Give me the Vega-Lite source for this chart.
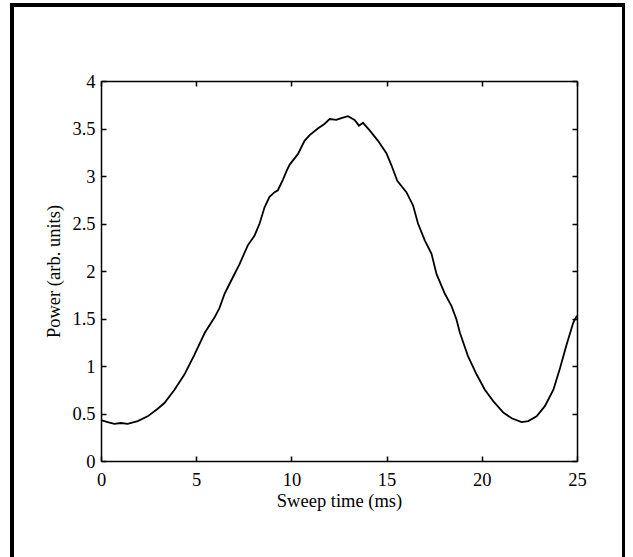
{
  "$schema": "https://vega.github.io/schema/vega-lite/v6.json",
  "width": 476,
  "height": 380,
  "autosize": {"type": "none"},
  "padding": {"left": 101, "top": 81, "right": 56, "bottom": 96},
  "background": "white",
  "config": {
    "view": {"stroke": null},
    "axis": {
      "domainColor": "black",
      "domainWidth": 1.5,
      "tickColor": "black",
      "tickWidth": 1.5,
      "tickSize": -5,
      "grid": false,
      "format": "~g",
      "labelFont": "Liberation Serif",
      "labelFontSize": 18.5,
      "labelColor": "black",
      "labelFlush": false,
      "titleFont": "Liberation Serif",
      "titleFontSize": 18.5,
      "titleFontWeight": "normal",
      "titleColor": "black"
    }
  },
  "data": {
    "values": [
      {"t": 0.0, "p": 0.43}, {"t": 0.35, "p": 0.41}, {"t": 0.7, "p": 0.39}, {"t": 1.05, "p": 0.4},
      {"t": 1.4, "p": 0.39}, {"t": 1.93, "p": 0.42}, {"t": 2.45, "p": 0.47}, {"t": 2.98, "p": 0.55},
      {"t": 3.33, "p": 0.61}, {"t": 3.86, "p": 0.75}, {"t": 4.38, "p": 0.91}, {"t": 4.91, "p": 1.12},
      {"t": 5.45, "p": 1.35}, {"t": 5.96, "p": 1.51}, {"t": 6.22, "p": 1.61}, {"t": 6.49, "p": 1.76},
      {"t": 6.84, "p": 1.9}, {"t": 7.27, "p": 2.07}, {"t": 7.71, "p": 2.27}, {"t": 8.06, "p": 2.37},
      {"t": 8.33, "p": 2.5}, {"t": 8.59, "p": 2.67}, {"t": 8.85, "p": 2.78}, {"t": 9.12, "p": 2.83},
      {"t": 9.29, "p": 2.85}, {"t": 9.55, "p": 2.96}, {"t": 9.76, "p": 3.06}, {"t": 9.91, "p": 3.12},
      {"t": 10.34, "p": 3.23}, {"t": 10.69, "p": 3.37}, {"t": 10.96, "p": 3.43}, {"t": 11.39, "p": 3.5},
      {"t": 11.75, "p": 3.55}, {"t": 12.01, "p": 3.6}, {"t": 12.36, "p": 3.59}, {"t": 12.62, "p": 3.61},
      {"t": 12.97, "p": 3.63}, {"t": 13.32, "p": 3.59}, {"t": 13.55, "p": 3.53}, {"t": 13.76, "p": 3.56},
      {"t": 14.11, "p": 3.48}, {"t": 14.55, "p": 3.37}, {"t": 14.99, "p": 3.24}, {"t": 15.26, "p": 3.11},
      {"t": 15.56, "p": 2.95}, {"t": 16.04, "p": 2.83}, {"t": 16.39, "p": 2.69}, {"t": 16.65, "p": 2.5},
      {"t": 17.01, "p": 2.32}, {"t": 17.36, "p": 2.18}, {"t": 17.62, "p": 1.97}, {"t": 18.06, "p": 1.76},
      {"t": 18.41, "p": 1.63}, {"t": 18.67, "p": 1.49}, {"t": 18.85, "p": 1.35}, {"t": 19.28, "p": 1.1},
      {"t": 19.73, "p": 0.91}, {"t": 20.16, "p": 0.75}, {"t": 20.6, "p": 0.63}, {"t": 21.13, "p": 0.51},
      {"t": 21.57, "p": 0.45}, {"t": 22.09, "p": 0.41}, {"t": 22.44, "p": 0.42}, {"t": 22.88, "p": 0.47},
      {"t": 23.32, "p": 0.58}, {"t": 23.76, "p": 0.75}, {"t": 24.11, "p": 0.98}, {"t": 24.46, "p": 1.23},
      {"t": 24.81, "p": 1.46}, {"t": 25.0, "p": 1.53}
    ]
  },
  "layer": [
    {
      "mark": {"type": "line", "color": "black", "strokeWidth": 1.8},
      "encoding": {
        "x": {"field": "t", "type": "quantitative", "scale": {"domain": [0, 25], "nice": false, "zero": false},
              "axis": {"orient": "bottom", "values": [0, 5, 10, 15, 20, 25], "title": "Sweep time (ms)", "labelPadding": 14, "titlePadding": 3}},
        "y": {"field": "p", "type": "quantitative", "scale": {"domain": [0, 4], "nice": false, "zero": false},
              "axis": {"orient": "left", "values": [0, 0.5, 1, 1.5, 2, 2.5, 3, 3.5, 4], "title": "Power (arb. units)", "labelPadding": 11, "titlePadding": 8}}
      }
    },
    {
      "mark": {"type": "line", "opacity": 0},
      "encoding": {
        "x": {"field": "t", "type": "quantitative", "scale": {"domain": [0, 25], "nice": false, "zero": false},
              "axis": {"orient": "top", "values": [0, 5, 10, 15, 20, 25], "labels": false, "title": null}},
        "y": {"field": "p", "type": "quantitative", "scale": {"domain": [0, 4], "nice": false, "zero": false},
              "axis": {"orient": "right", "values": [0, 0.5, 1, 1.5, 2, 2.5, 3, 3.5, 4], "labels": false, "title": null}}
      }
    },
    {
      "mark": {"type": "rect", "fill": null, "stroke": "black", "strokeWidth": 2.5, "clip": false},
      "encoding": {
        "x": {"datum": -4.68, "type": "quantitative", "axis": null},
        "x2": {"datum": 27.45},
        "y": {"datum": 4.8, "type": "quantitative", "axis": null},
        "y2": {"datum": -1.2}
      }
    }
  ],
  "resolve": {"axis": {"x": "independent", "y": "independent"}}
}
